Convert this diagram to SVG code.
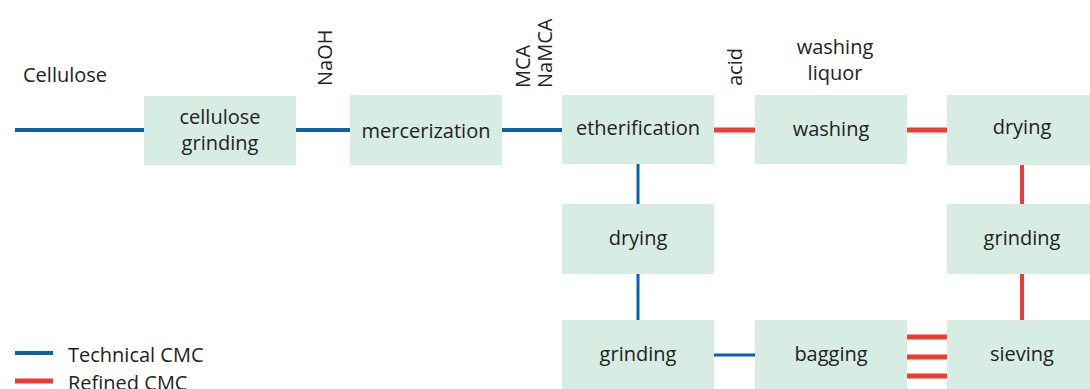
<svg xmlns="http://www.w3.org/2000/svg" width="1090" height="389" viewBox="0 0 1090 389">
<style>
.box{fill:#d7ede4;stroke:none}
.t{font-family:"Open Sans","Noto Sans",sans-serif;font-size:20px;fill:#222;text-anchor:middle}
.l{font-family:"Open Sans","Noto Sans",sans-serif;font-size:20px;fill:#222}
.b{stroke:#0a62ac;stroke-width:4;fill:none}
.bv{stroke:#0a62ac;stroke-width:3;fill:none}
.r{stroke:#ee3c35;stroke-width:5;fill:none}
.rv{stroke:#ee3c35;stroke-width:4;fill:none}
</style>
<rect width="1090" height="389" fill="#fff"/>
<g id="connectors">
<line class="b" x1="15" y1="130" x2="144" y2="130"/>
<line class="b" x1="296" y1="130" x2="350" y2="130"/>
<line class="b" x1="502" y1="130" x2="562" y2="130"/>
<line class="r" x1="714" y1="130" x2="755" y2="130"/>
<line class="r" x1="907" y1="130" x2="947" y2="130"/>
<line class="rv" x1="1022" y1="165" x2="1022" y2="204"/>
<line class="rv" x1="1022" y1="274" x2="1022" y2="320"/>
<line class="bv" x1="638" y1="164" x2="638" y2="204"/>
<line class="bv" x1="638" y1="274" x2="638" y2="320"/>
<line class="bv" x1="714" y1="355" x2="755" y2="355"/>
<line class="r" x1="907" y1="337" x2="947" y2="337"/>
<line class="r" x1="907" y1="357" x2="947" y2="357"/>
<line class="r" x1="907" y1="376" x2="947" y2="376"/>
</g>
<g id="n-cellulose-grinding"><rect class="box" x="144" y="96" width="152" height="69"/><text class="t" x="220" y="124">cellulose</text><text class="t" x="220" y="150">grinding</text></g>
<g id="n-mercerization"><rect class="box" x="350" y="95" width="152" height="70"/><text class="t" x="426" y="138">mercerization</text></g>
<g id="n-etherification"><rect class="box" x="562" y="95" width="152" height="69"/><text class="t" x="638" y="135">etherification</text></g>
<g id="n-washing"><rect class="box" x="755" y="95" width="152" height="69"/><text class="t" x="831" y="136">washing</text></g>
<g id="n-drying-r"><rect class="box" x="947" y="95" width="152" height="70"/><text class="t" x="1022" y="134">drying</text></g>
<g id="n-grinding-r"><rect class="box" x="947" y="204" width="152" height="70"/><text class="t" x="1022" y="245">grinding</text></g>
<g id="n-sieving"><rect class="box" x="947" y="320" width="152" height="75"/><text class="t" x="1022" y="361">sieving</text></g>
<g id="n-bagging"><rect class="box" x="755" y="320" width="152" height="75"/><text class="t" x="831" y="361">bagging</text></g>
<g id="n-grinding-l"><rect class="box" x="562" y="320" width="152" height="75"/><text class="t" x="638" y="361">grinding</text></g>
<g id="n-drying-l"><rect class="box" x="562" y="204" width="152" height="70"/><text class="t" x="638" y="245">drying</text></g>
<g id="labels">
<text class="l" x="23" y="82">Cellulose</text>
<text class="l" transform="translate(332,86) rotate(-90)">NaOH</text>
<text class="l" transform="translate(530,88) rotate(-90)">MCA</text>
<text class="l" transform="translate(552,88) rotate(-90)">NaMCA</text>
<text class="l" transform="translate(742,86) rotate(-90)">acid</text>
<text class="t" x="835" y="54">washing</text>
<text class="t" x="835" y="80">liquor</text>
</g>
<g id="legend">
<line class="b" x1="15" y1="353" x2="53" y2="353"/>
<text class="l" x="68" y="362">Technical CMC</text>
<line class="r" x1="15" y1="381" x2="53" y2="381"/>
<text class="l" x="68" y="390">Refined CMC</text>
</g>
</svg>
